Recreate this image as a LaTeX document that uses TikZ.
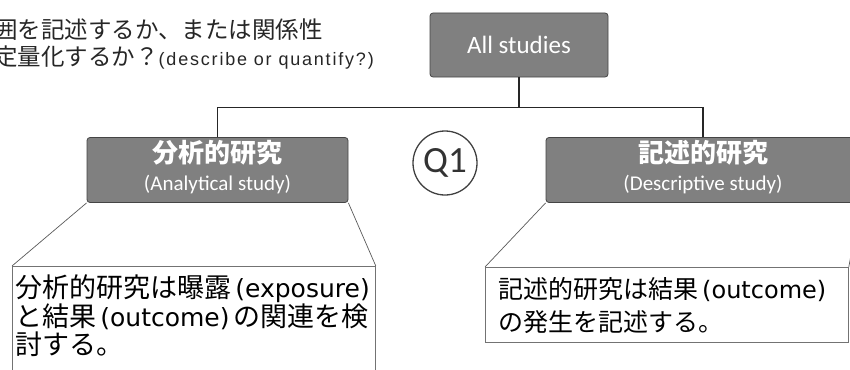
\documentclass[tikz,border=0pt]{standalone}
\usepackage{fontspec}
\setmainfont{Carlito}
\newfontfamily\jp{Noto Sans CJK JP}
\newfontfamily\lat{Carlito}
\newfontfamily\djv{DejaVu Sans}
\newfontfamily\arl[LetterSpace=10]{Liberation Sans}
\newcommand\en[1]{{\djv\,(#1)\,}}
\definecolor{boxgray}{HTML}{808080}
\definecolor{boxedge}{HTML}{454545}
\tikzset{
  graybox/.style={draw=boxedge, fill=boxgray, rounded corners=3pt, line width=0.8pt,
    text=white, align=center, inner sep=0pt},
  textbox/.style={draw=black!55, fill=white, line width=0.8pt, inner sep=0pt},
  bodytext/.style={anchor=north west, inner sep=0pt, align=left, text=black},
  tree/.style={draw=black!85, line width=1.6pt},
  callout/.style={draw=black!65, line width=0.7pt},
}
\begin{document}
\begin{tikzpicture}[x=1pt,y=-1pt]
\useasboundingbox (0,0) rectangle (850,369);
\clip (0,0) rectangle (850,369);
% question text (clipped at left)
\node[anchor=north west, inner sep=0pt, align=left, text=black!85,
      font=\jp\fontsize{23.5}{27}\selectfont] (quest) at (-6,19)
  {囲を記述するか、または関係性\\定量化するか？{\arl\fontsize{18}{27}\selectfont (describe or quantify?)}};
% tree
\node[graybox, minimum width=178pt, minimum height=64pt,
      font=\lat\fontsize{25}{27}\selectfont] (all) at (519,45) {All studies};
\node[graybox, minimum width=261pt, minimum height=65pt,
      font=\lat\fontsize{21}{28}\selectfont] (ana) at (217.5,170)
  {{\jp\bfseries\fontsize{26}{28}\selectfont 分析的研究}\\(Analytical study)\rule[-10pt]{0pt}{0pt}};
\node[graybox, minimum width=314pt, minimum height=65pt,
      font=\lat\fontsize{21}{28}\selectfont] (des) at (703,170)
  {{\jp\bfseries\fontsize{26}{28}\selectfont 記述的研究}\\(Descriptive study)\rule[-10pt]{0pt}{0pt}};
\node[circle, draw=black!75, line width=1.3pt, minimum size=64pt, inner sep=0pt,
      text=black!80, font=\lat\fontsize{37}{40}\selectfont] (q1) at (445,163) {Q1};
\draw[tree] (all.south) -- ++(0,30) coordinate (j);
\draw[tree] (ana.north) |- (j) -| (des.north);
% callout boxes
\node[textbox, minimum width=363pt, minimum height=115pt, anchor=north west] (anabox) at (12,266) {};
\node[textbox, minimum width=363pt, minimum height=75pt, anchor=north west] (desbox) at (485,267) {};
\draw[callout] (ana.south west) -- (anabox.north west);
\draw[callout] (ana.south east) -- (anabox.north east);
\draw[callout] (des.south west) -- (desbox.north west);
\draw[callout] (des.south east) -- (desbox.north east);
\node[bodytext, font=\jp\fontsize{27}{27.5}\selectfont] (anatxt) at (15,275)
  {分析的研究は曝露{\fontsize{25}{27}\selectfont\en{exposure}}\\と結果{\fontsize{25}{27}\selectfont\en{outcome}}の関連を検\\討する。};
\node[bodytext, font=\jp\fontsize{25}{33}\selectfont] (destxt) at (498,277)
  {記述的研究は結果{\fontsize{24}{33}\selectfont\en{outcome}}\\の発生を記述する。};
\end{tikzpicture}
\end{document}
